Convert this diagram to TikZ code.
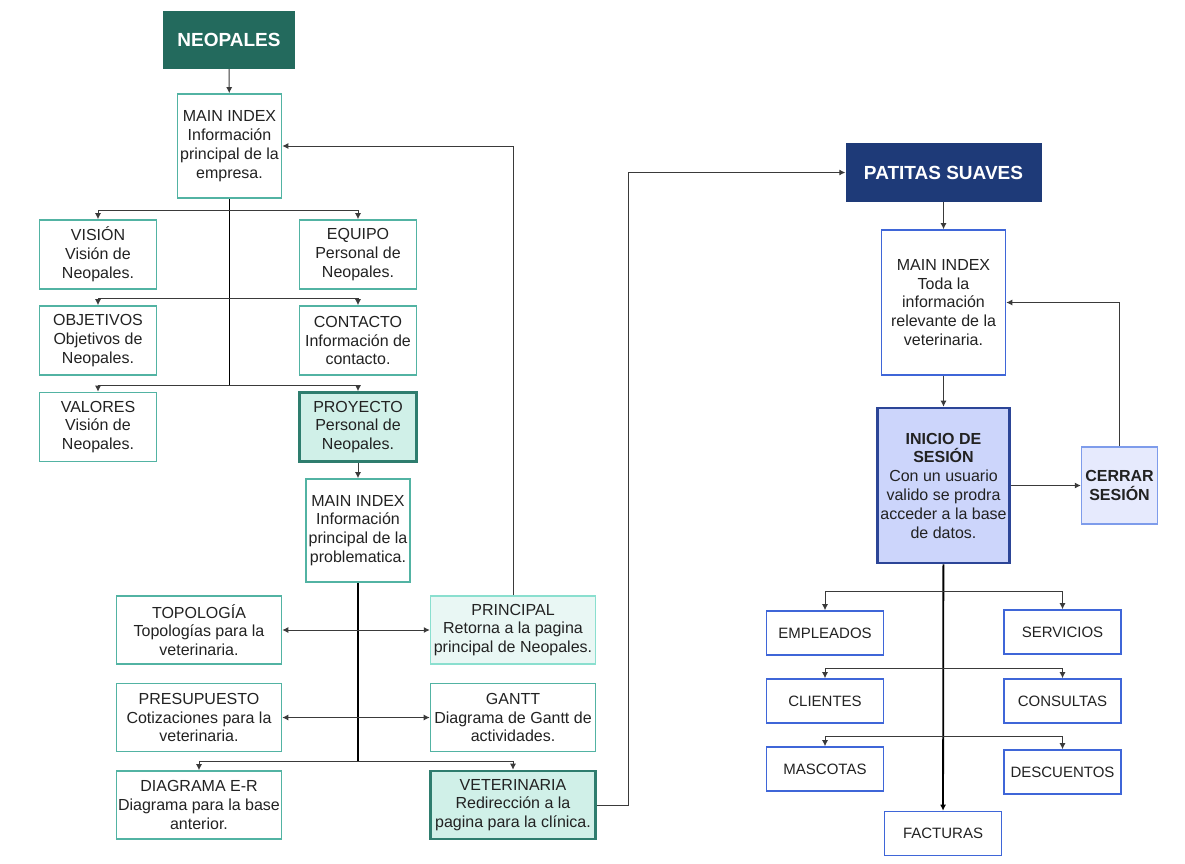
\documentclass[tikz,border=0pt]{standalone}
\usepackage{fontspec}
\setmainfont{Liberation Sans}
\usepackage{xcolor}
\usepackage{tikz}
\usetikzlibrary{arrows.meta}
\definecolor{neogreen}{HTML}{236A5D}
\definecolor{tealline}{HTML}{52B3A3}
\definecolor{tealdark}{HTML}{2E7D6E}
\definecolor{tealfill}{HTML}{D0F0E8}
\definecolor{teallight}{HTML}{8ADFCF}
\definecolor{tealpale}{HTML}{E9F7F4}
\definecolor{patblue}{HTML}{1E3A78}
\definecolor{blueline}{HTML}{3F66D8}
\definecolor{bluedark}{HTML}{2C4597}
\definecolor{bluefill}{HTML}{CCD5FB}
\definecolor{bluelight}{HTML}{7E9CEB}
\definecolor{bluepale}{HTML}{E6EAFD}
\definecolor{linegray}{HTML}{3A3A3A}
\definecolor{txt}{HTML}{222222}

\begin{document}
\begin{tikzpicture}[x=1pt, y=-1pt, >={Latex[length=6pt,width=6pt]},
    every node/.style = {align=center, inner sep=0pt, text=txt, font=\fontsize{16}{18.8}\selectfont},
    title/.style = {text=white, font=\fontsize{19}{22}\selectfont\bfseries},
    lbox/.style  = {draw=tealline, line width=1.6pt, fill=white},
    lhigh/.style = {draw=tealdark, line width=2.6pt, fill=tealfill},
    llight/.style = {draw=teallight, line width=1.4pt, fill=tealpale},
    rbox/.style  = {draw=blueline, line width=1.6pt, fill=white},
    rhigh/.style = {draw=bluedark, line width=2.6pt, fill=bluefill},
    rlight/.style = {draw=bluelight, line width=1.4pt, fill=bluepale},
    small/.style = {minimum width=117pt, minimum height=69pt},
    wide/.style  = {minimum width=165pt, minimum height=68pt},
    item/.style  = {minimum width=117pt, minimum height=44pt, font=\fontsize{15}{18}\selectfont},
    link/.style  = {draw=linegray, line width=1pt},
    trunk/.style = {draw=black, line width=1.8pt}]
    \path[use as bounding box, fill=white] (0,0) rectangle (1185,863);

    \node[title, fill=neogreen, minimum width=132pt, minimum height=58pt] (1) at (229,40) {NEOPALES};
    \node[lbox, minimum width=104pt, minimum height=104pt] (2) at (229.5,146) {MAIN INDEX\\Información\\principal de la\\empresa.};
    \node[lbox, small]  (3)  at (98,254.5)   {VISIÓN\\Visión de\\Neopales.};
    \node[lbox, small]  (4)  at (358,254.5)  {EQUIPO\\Personal de\\Neopales.};
    \node[lbox, small]  (5)  at (98,340.5)   {OBJETIVOS\\Objetivos de\\Neopales.};
    \node[lbox, small]  (6)  at (358,340.5)  {CONTACTO\\Información de\\contacto.};
    \node[lbox, small]  (7)  at (98,427)     {VALORES\\Visión de\\Neopales.};
    \node[lhigh, small] (8)  at (358,427)    {PROYECTO\\Personal de\\Neopales.};
    \node[lbox, minimum width=104pt, minimum height=103pt] (9) at (358,530.5) {MAIN INDEX\\Información\\principal de la\\problematica.};
    \node[lbox, wide]   (10) at (199,630)    {TOPOLOGÍA\\Topologías para la\\veterinaria.};
    \node[llight, wide] (11) at (513,630)    {PRINCIPAL\\Retorna a la pagina\\principal de Neopales.};
    \node[lbox, wide]   (12) at (199,717.5)  {PRESUPUESTO\\Cotizaciones para la\\veterinaria.};
    \node[lbox, wide]   (13) at (513,717.5)  {GANTT\\Diagrama de Gantt de\\actividades.};
    \node[lbox, wide]   (14) at (199,805)    {DIAGRAMA E-R\\Diagrama para la base\\anterior.};
    \node[lhigh, wide]  (15) at (513,805)    {VETERINARIA\\Redirección a la\\pagina para la clínica.};

    \node[title, fill=patblue, minimum width=196pt, minimum height=59pt] (16) at (943.5,172.5) {PATITAS SUAVES};
    \node[rbox, minimum width=124pt, minimum height=145pt] (17) at (943.5,302.5) {MAIN INDEX\\Toda la\\información\\relevante de la\\veterinaria.};
    \node[rhigh, minimum width=132pt, minimum height=155pt] (18) at (943.5,485.5) {\textbf{INICIO DE}\\\textbf{SESIÓN}\\Con un usuario\\valido se prodra\\acceder a la base\\de datos.};
    \node[rlight, minimum width=76pt, minimum height=77pt] (19) at (1119.5,485.5) {\textbf{CERRAR}\\\textbf{SESIÓN}};
    \node[rbox, item] (20) at (825,633)     {EMPLEADOS};
    \node[rbox, item] (21) at (1062.5,632)  {SERVICIOS};
    \node[rbox, item] (22) at (825,701)     {CLIENTES};
    \node[rbox, item] (23) at (1062.5,701)  {CONSULTAS};
    \node[rbox, item] (24) at (825,769)     {MASCOTAS};
    \node[rbox, item] (25) at (1062.5,772)  {DESCUENTOS};
    \node[rbox, item] (26) at (943,833.5)   {FACTURAS};

    \coordinate (a) at (229.5,210);
    \coordinate (b) at (229.5,298);
    \coordinate (c) at (229.5,385);
    \coordinate (d) at (358,761);
    \coordinate (e) at (943.5,591);
    \coordinate (f) at (943.5,668);
    \coordinate (g) at (943.5,736);

    \draw[link, ->] (1) -- (2);
    \draw[trunk] (2) -- (c);
    \draw[link, ->] (a) -| (3);
    \draw[link, ->] (a) -| (4);
    \draw[link, ->] (b) -| (5);
    \draw[link, ->] (b) -| (6);
    \draw[link, ->] (c) -| (7);
    \draw[link, ->] (c) -| (8);
    \draw[link, ->] (8) -- (9);
    \draw[trunk] (9) -- (d);
    \draw[link, <->] (10) -- (11);
    \draw[link, <->] (12) -- (13);
    \draw[link, ->] (d) -| (14);
    \draw[link, ->] (d) -| (15);
    \draw[link, ->] (11) |- (2);
    \draw[link, ->] (15.east) -- ++(32,0) |- (16);

    \draw[link, ->] (16) -- (17);
    \draw[link, ->] (17) -- (18);
    \draw[link, ->] (18) -- (19);
    \draw[link, ->] (19) |- (17);
    \draw[trunk, ->] (18) -- (26);
    \draw[link, ->] (e) -| (20);
    \draw[link, ->] (e) -| (21);
    \draw[link, ->] (f) -| (22);
    \draw[link, ->] (f) -| (23);
    \draw[link, ->] (g) -| (24);
    \draw[link, ->] (g) -| (25);
\end{tikzpicture}
\end{document}
